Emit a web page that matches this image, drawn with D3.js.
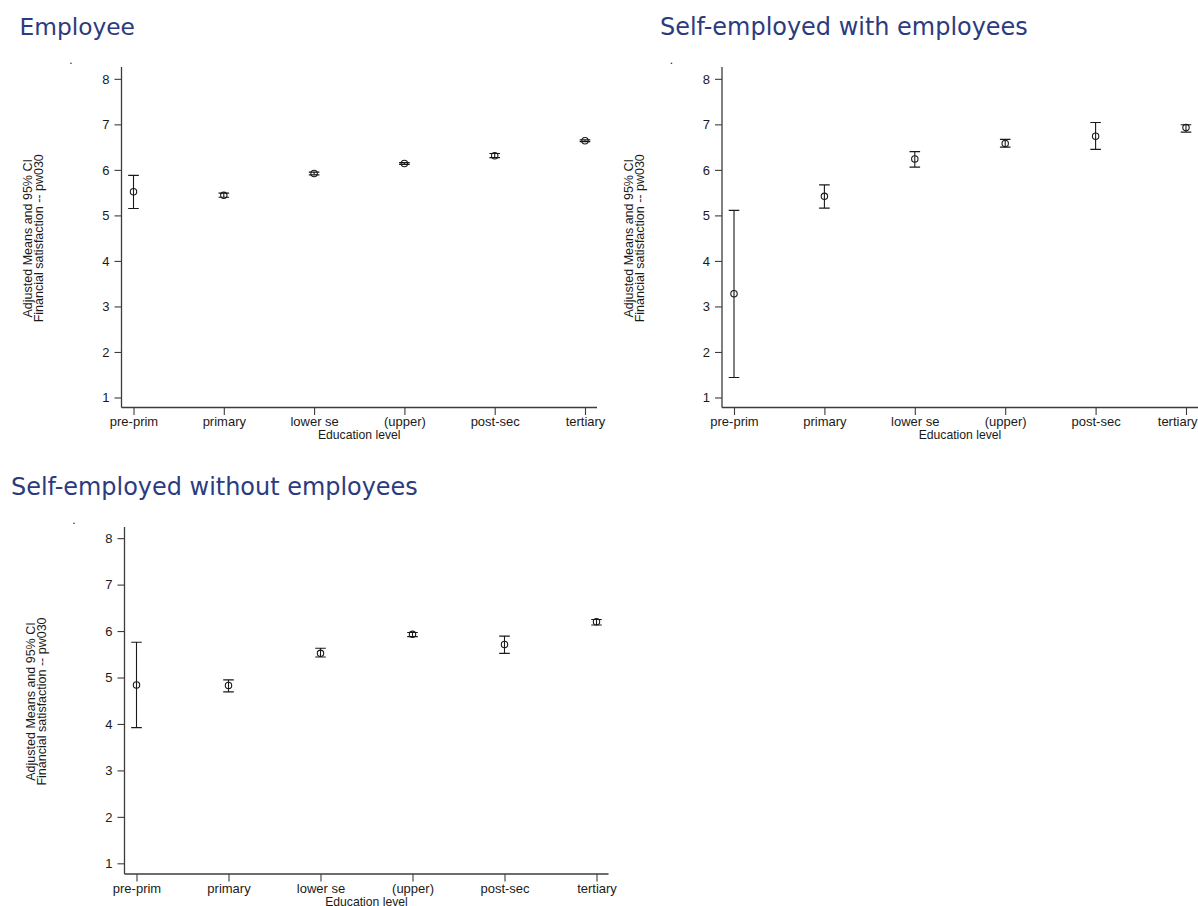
<!DOCTYPE html>
<html>
<head>
<meta charset="utf-8">
<script src="https://cdn.jsdelivr.net/npm/d3@7"></script>
<style>
  html, body { margin: 0; padding: 0; background: #ffffff; }
  svg { display: block; }
</style>
</head>
<body>
<script>
// Education levels on the x axis
const categories = ["pre-prim", "primary", "lower se", "(upper)", "post-sec", "tertiary"];
const yTicks = [1, 2, 3, 4, 5, 6, 7, 8];

// Adjusted means and 95% CI bounds, financial satisfaction (pw030)
const employeeMean = [5.52, 5.44, 5.92, 6.14, 6.31, 6.64];
const employeeLow  = [5.15, 5.40, 5.89, 6.12, 6.27, 6.62];
const employeeHigh = [5.88, 5.49, 5.95, 6.16, 6.36, 6.66];

const withEmpMean = [3.28, 5.42, 6.24, 6.58, 6.74, 6.93];
const withEmpLow  = [1.44, 5.16, 6.06, 6.50, 6.45, 6.83];
const withEmpHigh = [5.11, 5.67, 6.40, 6.67, 7.04, 6.99];

const withoutEmpMean = [4.84, 4.83, 5.52, 5.93, 5.71, 6.20];
const withoutEmpLow  = [3.92, 4.69, 5.44, 5.88, 5.52, 6.13];
const withoutEmpHigh = [5.76, 4.95, 5.63, 5.97, 5.89, 6.25];

const panelTitles = ["Employee", "Self-employed with employees", "Self-employed without employees"];
const yTitleLines = ["Adjusted Means and 95% CI", "Financial satisfaction -- pw030"];
const xTitle = "Education level";

const W = 1198, H = 906;
const TITLE_COLOR = "#2c3b7e";
const INK = "#1a1a1a";
const AXIS = "#3c3c3c";
const FONT = "'Liberation Sans', Arial, sans-serif";
const TITLE_FONT = "'DejaVu Sans', Verdana, sans-serif";

// Panel frames: axis line extents and title placement
const panels = [
  { title: panelTitles[0], mean: employeeMean, lo: employeeLow, hi: employeeHigh,
    left: 121.5, right: 597, top: 67, bottom: 407.5, yDomain: [0.78, 8.26],
    titleX: 19.5, titleY: 35, titleW: 115.5 },
  { title: panelTitles[1], mean: withEmpMean, lo: withEmpLow, hi: withEmpHigh,
    left: 722, right: 1198, top: 67, bottom: 407.5, yDomain: [0.78, 8.26],
    titleX: 660, titleY: 35, titleW: 368 },
  { title: panelTitles[2], mean: withoutEmpMean, lo: withoutEmpLow, hi: withoutEmpHigh,
    left: 124.5, right: 608.5, top: 527, bottom: 874, yDomain: [0.77, 8.24],
    titleX: 11, titleY: 495, titleW: 407 }
];

const svg = d3.select("body").append("svg")
  .attr("width", W).attr("height", H)
  .attr("viewBox", `0 0 ${W} ${H}`);

svg.append("rect").attr("width", W).attr("height", H).attr("fill", "#fff");

panels.forEach(p => {
  const g = svg.append("g");

  const x = d3.scalePoint().domain(categories).range([p.left + 12, p.right - 12]);
  const y = d3.scaleLinear().domain(p.yDomain).range([p.bottom, p.top]);

  // Panel title, sized to its frame width
  const t = g.append("text")
    .attr("x", p.titleX).attr("y", p.titleY)
    .attr("font-family", TITLE_FONT).attr("font-size", 100)
    .attr("fill", TITLE_COLOR).text(p.title);
  const w100 = t.node().getComputedTextLength();
  t.attr("font-size", (100 * p.titleW / w100).toFixed(2));

  // Empty plot-title placeholder
  g.append("text")
    .attr("x", p.left - 50.5).attr("y", p.top - 3)
    .attr("font-family", FONT).attr("font-size", 12)
    .attr("fill", INK).attr("text-anchor", "middle").text(".");

  // Y axis
  const yAxis = d3.axisLeft(y).tickValues(yTicks).tickSize(7).tickPadding(5).tickFormat(d3.format("d"));
  const ya = g.append("g").attr("transform", `translate(${p.left},0)`).call(yAxis);
  ya.select(".domain").attr("d", `M0,${p.top}V${p.bottom}`).attr("stroke", AXIS).attr("stroke-width", 1.3);
  ya.selectAll(".tick line").attr("stroke", AXIS).attr("stroke-width", 1.1);
  ya.selectAll(".tick text").attr("font-family", FONT).attr("font-size", 13).attr("fill", INK);

  // X axis
  const xAxis = d3.axisBottom(x).tickSize(7.5).tickPadding(2);
  const xa = g.append("g").attr("transform", `translate(0,${p.bottom})`).call(xAxis);
  xa.select(".domain").attr("d", `M${p.left},0H${p.right}`).attr("stroke", AXIS).attr("stroke-width", 1.3);
  xa.selectAll(".tick line").attr("stroke", AXIS).attr("stroke-width", 1.1);
  xa.selectAll(".tick text").attr("font-family", FONT).attr("font-size", 13).attr("fill", INK);
  // keep tick labels inside the drawing area
  xa.selectAll(".tick").each(function (d) {
    const txt = d3.select(this).select("text");
    const half = txt.node().getComputedTextLength() / 2;
    const cx = x(d);
    if (cx + half > W - 1) txt.attr("x", (W - 1) - half - cx);
  });

  // X axis title
  g.append("text")
    .attr("x", (p.left + p.right) / 2).attr("y", p.bottom + 31.5)
    .attr("text-anchor", "middle")
    .attr("font-family", FONT).attr("font-size", 12.2).attr("fill", INK)
    .text(xTitle);

  // Y axis title (two lines)
  const cy = (p.top + p.bottom) / 2 + 1;
  yTitleLines.forEach((line, i) => {
    g.append("text")
      .attr("transform", `translate(${p.left - 93.5 + i * 11},${cy}) rotate(-90)`)
      .attr("dy", "0.35em")
      .attr("text-anchor", "middle")
      .attr("font-family", FONT).attr("font-size", 12.5).attr("fill", INK)
      .text(line);
  });

  // Error bars with caps
  const rows = categories.map((c, i) => ({ c, m: p.mean[i], lo: p.lo[i], hi: p.hi[i] }));
  const cap = 5.3;
  const bars = g.append("g").attr("stroke", INK).attr("stroke-width", 1.1).attr("fill", "none");
  bars.selectAll("path").data(rows).join("path")
    .attr("d", d => {
      const cx = x(d.c), y0 = y(d.lo), y1 = y(d.hi);
      return `M${cx},${y0}V${y1}M${cx - cap},${y0}H${cx + cap}M${cx - cap},${y1}H${cx + cap}`;
    });

  // Mean markers: hollow circles
  g.append("g").selectAll("circle").data(rows).join("circle")
    .attr("cx", d => x(d.c)).attr("cy", d => y(d.m))
    .attr("r", 3.2)
    .attr("fill", "none").attr("stroke", INK).attr("stroke-width", 1.1);
});
</script>
</body>
</html>
